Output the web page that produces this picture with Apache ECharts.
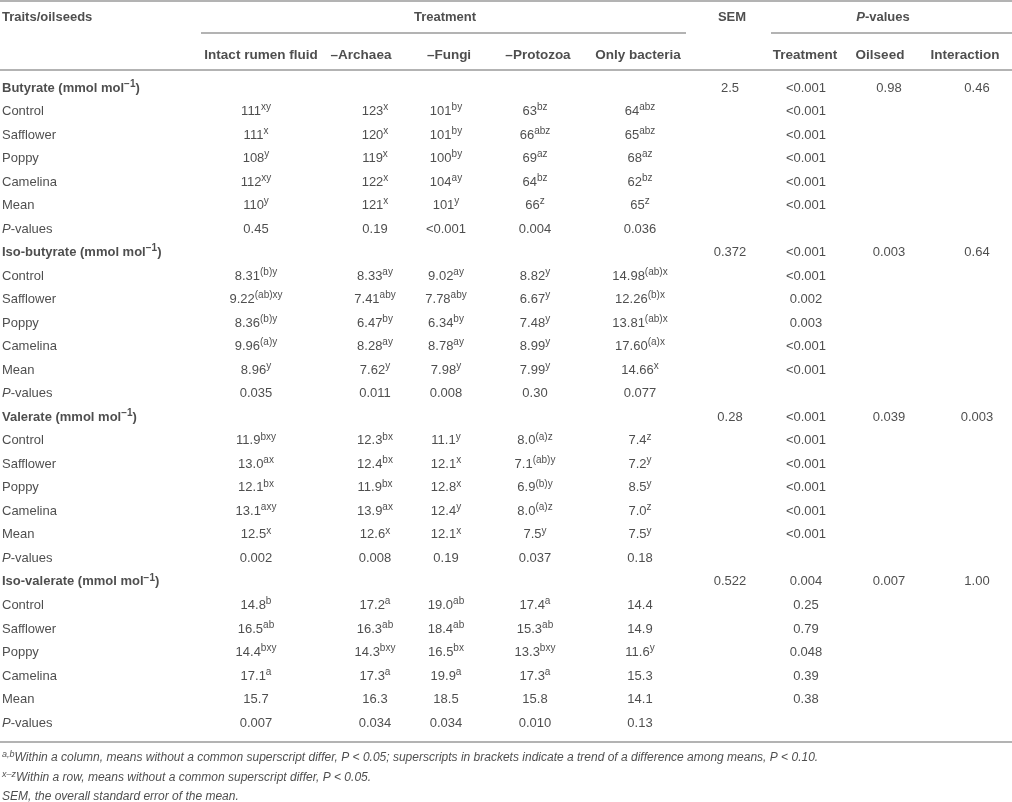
<!DOCTYPE html>
<html>
<head>
<meta charset="utf-8">
<script src="https://cdn.jsdelivr.net/npm/echarts@6/dist/echarts.min.js"></script>
<style>
  html, body { margin: 0; padding: 0; background: #fff; }
  #main { width: 1012px; height: 802px; }
</style>
</head>
<body>
<div id="main"></div>
<script>
// table content
const treatments = ['Intact rumen fluid', '–Archaea', '–Fungi', '–Protozoa', 'Only bacteria'];
const pHeads = ['Treatment', 'Oilseed', 'Interaction'];
const traits = ['Butyrate', 'Iso-butyrate', 'Valerate', 'Iso-valerate'];
const oilseeds = ['Control', 'Safflower', 'Poppy', 'Camelina', 'Mean', 'P-values'];

const butyrate = [
  ['111^xy', '123^x', '101^by', '63^bz', '64^abz'],
  ['111^x', '120^x', '101^by', '66^abz', '65^abz'],
  ['108^y', '119^x', '100^by', '69^az', '68^az'],
  ['112^xy', '122^x', '104^ay', '64^bz', '62^bz'],
  ['110^y', '121^x', '101^y', '66^z', '65^z'],
  ['0.45', '0.19', '<0.001', '0.004', '0.036']
];
const isoButyrate = [
  ['8.31^(b)y', '8.33^ay', '9.02^ay', '8.82^y', '14.98^(ab)x'],
  ['9.22^(ab)xy', '7.41^aby', '7.78^aby', '6.67^y', '12.26^(b)x'],
  ['8.36^(b)y', '6.47^by', '6.34^by', '7.48^y', '13.81^(ab)x'],
  ['9.96^(a)y', '8.28^ay', '8.78^ay', '8.99^y', '17.60^(a)x'],
  ['8.96^y', '7.62^y', '7.98^y', '7.99^y', '14.66^x'],
  ['0.035', '0.011', '0.008', '0.30', '0.077']
];
const valerate = [
  ['11.9^bxy', '12.3^bx', '11.1^y', '8.0^(a)z', '7.4^z'],
  ['13.0^ax', '12.4^bx', '12.1^x', '7.1^(ab)y', '7.2^y'],
  ['12.1^bx', '11.9^bx', '12.8^x', '6.9^(b)y', '8.5^y'],
  ['13.1^axy', '13.9^ax', '12.4^y', '8.0^(a)z', '7.0^z'],
  ['12.5^x', '12.6^x', '12.1^x', '7.5^y', '7.5^y'],
  ['0.002', '0.008', '0.19', '0.037', '0.18']
];
const isoValerate = [
  ['14.8^b', '17.2^a', '19.0^ab', '17.4^a', '14.4'],
  ['16.5^ab', '16.3^ab', '18.4^ab', '15.3^ab', '14.9'],
  ['14.4^bxy', '14.3^bxy', '16.5^bx', '13.3^bxy', '11.6^y'],
  ['17.1^a', '17.3^a', '19.9^a', '17.3^a', '15.3'],
  ['15.7', '16.3', '18.5', '15.8', '14.1'],
  ['0.007', '0.034', '0.034', '0.010', '0.13']
];
const blocks = [butyrate, isoButyrate, valerate, isoValerate];

const sem = ['2.5', '0.372', '0.28', '0.522'];
const pTreatment = ['<0.001', '<0.001', '<0.001', '0.004'];
const pOilseed = ['0.98', '0.003', '0.039', '0.007'];
const pInteraction = ['0.46', '0.64', '0.003', '1.00'];
const pTreatmentByOilseed = [
  ['<0.001', '<0.001', '<0.001', '<0.001', '<0.001'],
  ['<0.001', '0.002', '0.003', '<0.001', '<0.001'],
  ['<0.001', '<0.001', '<0.001', '<0.001', '<0.001'],
  ['0.25', '0.79', '0.048', '0.39', '0.38']
];

const footnotes = [
  ['a,b', 'Within a column, means without a common superscript differ, P < 0.05; superscripts in brackets indicate a trend of a difference among means, P < 0.10.'],
  ['x–z', 'Within a row, means without a common superscript differ, P < 0.05.'],
  ['', 'SEM, the overall standard error of the mean.']
];

// layout
const W = 1012, H = 802;
const valX = [256, 375, 446, 535, 640];
const headX = [261, 361, 449, 538, 638];
const semX = 730;
const pX = [806, 889, 977];
const pHeadX = [805, 880, 965];
const head1Y = 17, head2Y = 55;
const rowTop = 88, rowH = 23.52;
const footY = [758, 778, 797];
const textColor = '#222';
const ruleColor = '#b3b3b3';

const sup = s => {
  const i = s.indexOf('^');
  return i < 0 ? '{n|' + s + '}' : '{n|' + s.slice(0, i) + '}{s|' + s.slice(i + 1) + '}';
};
const pv = bold => bold ? '{bi|P}{b|-values}' : '{i|P}{n|-values}';

const centered = [];
const lefts = [];

// header rows
lefts.push({ value: [2, head1Y], name: '{b|Traits/oilseeds}' });
centered.push({ value: [445, head1Y], name: '{b|Treatment}' });
centered.push({ value: [732, head1Y], name: '{b|SEM}' });
centered.push({ value: [883, head1Y], name: pv(true) });
treatments.forEach((t, i) => centered.push({ value: [headX[i], head2Y], name: '{h|' + t + '}' }));
pHeads.forEach((t, i) => centered.push({ value: [pHeadX[i], head2Y], name: '{h|' + t + '}' }));

// body
traits.forEach((trait, b) => {
  const y0 = rowTop + b * 7 * rowH;
  lefts.push({ value: [2, y0], name: '{b|' + trait + ' (mmol mol}{bs|−1}{b|)}' });
  centered.push({ value: [semX, y0], name: sup(sem[b]) });
  centered.push({ value: [pX[0], y0], name: sup(pTreatment[b]) });
  centered.push({ value: [pX[1], y0], name: sup(pOilseed[b]) });
  centered.push({ value: [pX[2], y0], name: sup(pInteraction[b]) });
  oilseeds.forEach((o, r) => {
    const y = y0 + (r + 1) * rowH;
    lefts.push({ value: [2, y], name: o === 'P-values' ? pv(false) : '{n|' + o + '}' });
    blocks[b][r].forEach((v, c) => centered.push({ value: [valX[c], y], name: sup(v) }));
    if (r < 5) centered.push({ value: [pX[0], y], name: sup(pTreatmentByOilseed[b][r]) });
  });
});

// footnotes
footnotes.forEach((f, i) => {
  lefts.push({ value: [2, footY[i]], name: (f[0] ? '{fs|' + f[0] + '}' : '') + '{f|' + f[1] + '}' });
});

const rich = {
  n: { fontSize: 13, lineHeight: 18, color: textColor },
  s: { fontSize: 10, lineHeight: 10, verticalAlign: 'top', color: textColor },
  b: { fontSize: 13, lineHeight: 18, fontWeight: 'bold', color: textColor },
  h: { fontSize: 13.5, lineHeight: 18, fontWeight: 'bold', color: textColor },
  bs: { fontSize: 10, lineHeight: 10, verticalAlign: 'top', fontWeight: 'bold', color: textColor },
  i: { fontSize: 13, lineHeight: 18, fontStyle: 'italic', color: textColor },
  bi: { fontSize: 13, lineHeight: 18, fontStyle: 'italic', fontWeight: 'bold', color: textColor },
  f: { fontSize: 12, lineHeight: 16, fontStyle: 'italic', color: textColor },
  fs: { fontSize: 9, lineHeight: 9, fontStyle: 'italic', verticalAlign: 'top', color: textColor }
};

const labelBase = {
  show: true,
  formatter: p => p.name,
  fontFamily: '"Liberation Sans", Arial, sans-serif',
  rich: rich
};

const rule = (x1, x2, y) => ({
  type: 'line',
  shape: { x1: x1, y1: y, x2: x2, y2: y },
  style: { stroke: ruleColor, lineWidth: 2 },
  silent: true
});

const chart = echarts.init(document.getElementById('main'), null, { renderer: 'canvas' });
chart.setOption({
  animation: false,
  backgroundColor: '#fff',
  grid: { left: 0, right: 0, top: 0, bottom: 0 },
  xAxis: { type: 'value', min: 0, max: W, show: false },
  yAxis: { type: 'value', min: 0, max: H, inverse: true, show: false },
  graphic: [
    rule(0, W, 1),
    rule(201, 686, 33),
    rule(771, W, 33),
    rule(0, W, 70),
    rule(0, W, 742)
  ],
  series: [
    {
      type: 'scatter',
      symbolSize: 0,
      silent: true,
      data: centered,
      label: Object.assign({ position: 'inside', align: 'center', verticalAlign: 'middle' }, labelBase)
    },
    {
      type: 'scatter',
      symbolSize: 0,
      silent: true,
      data: lefts,
      label: Object.assign({ position: 'right', distance: 0 }, labelBase)
    }
  ]
});
</script>
</body>
</html>
